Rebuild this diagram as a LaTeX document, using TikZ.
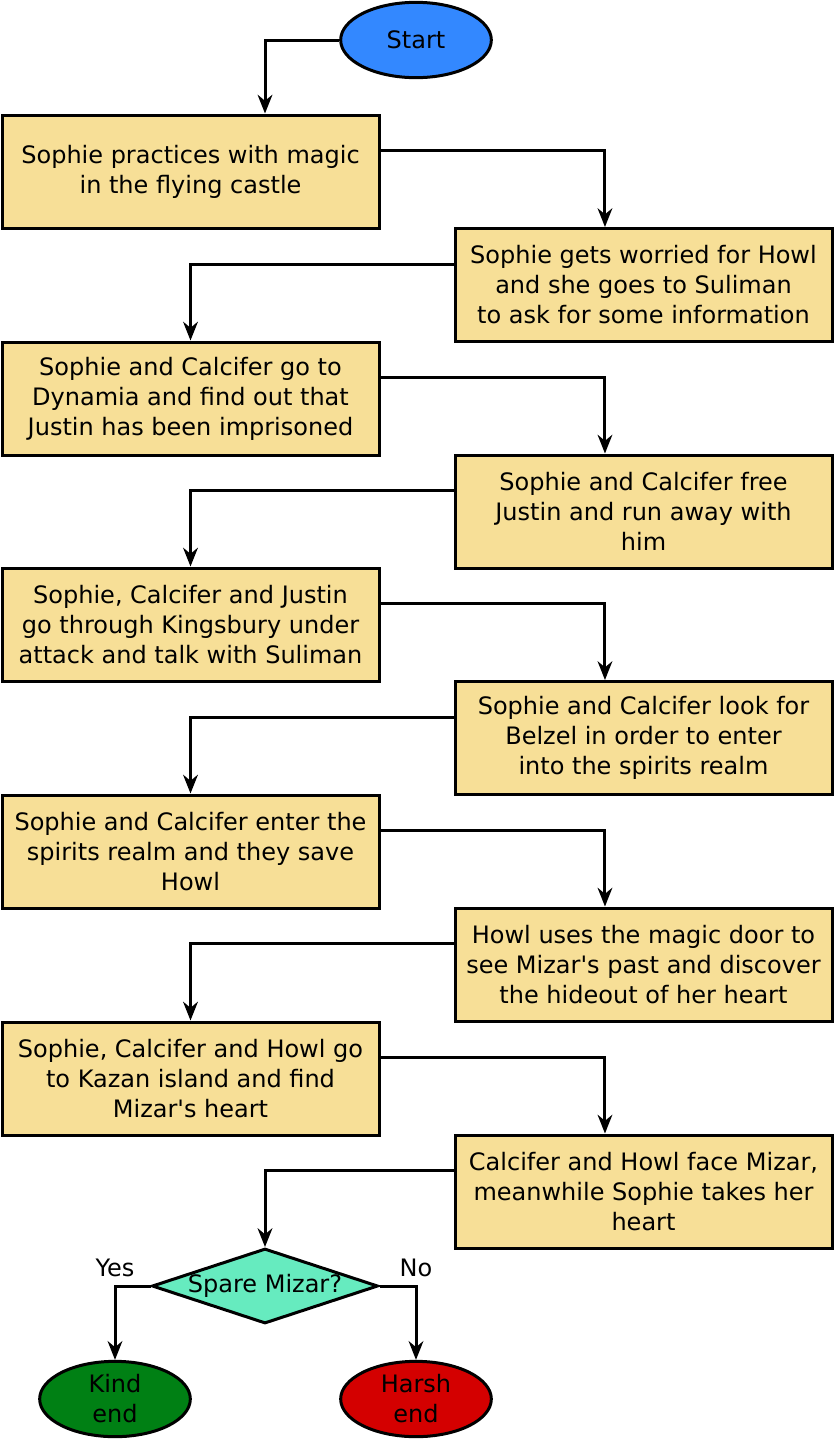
\documentclass[tikz,border=0pt]{standalone}
\usepackage{fontspec}
\setmainfont{DejaVu Sans}
\usetikzlibrary{arrows.meta,shapes.geometric}

\definecolor{startblue}{HTML}{3388FF}
\definecolor{stepfill}{HTML}{F7DF97}
\definecolor{askfill}{HTML}{66EBBF}
\definecolor{kindgreen}{HTML}{008014}
\definecolor{harshred}{HTML}{D40000}

\tikzset{
  stepbox/.style={draw, line width=2.25pt, fill=stepfill, minimum width=282.75pt,
    minimum height=84.75pt, align=center, inner sep=0pt},
  endblob/.style={draw, line width=2.25pt, ellipse, minimum width=113pt,
    minimum height=56.5pt, align=center, inner sep=0pt},
  arr/.style={line width=2.25pt, -{Stealth[length=14pt,width=11pt,inset=4.5pt]}}
}

\begin{document}
\begin{tikzpicture}[x=0.75pt, y=-0.75pt, font=\fontsize{18}{22.5}\selectfont]
  \useasboundingbox (0,0) rectangle (834,1439);
  \node[endblob, fill=startblue] (start) at (416,40) {Start};
  \node[stepbox] (b1) at (190.5,171.5) {Sophie practices with magic\\in the flying castle};
  \node[stepbox] (b2) at (643.5,285) {Sophie gets worried for Howl\\and she goes to Suliman\\to ask for some information};
  \node[stepbox] (b3) at (190.5,398.5) {Sophie and Calcifer go to\\Dynamia and find out that\\Justin has been imprisoned};
  \node[stepbox] (b4) at (643.5,511.5) {Sophie and Calcifer free\\Justin and run away with\\him};
  \node[stepbox] (b5) at (190.5,624.5) {Sophie, Calcifer and Justin\\go through Kingsbury under\\attack and talk with Suliman};
  \node[stepbox] (b6) at (643.5,738) {Sophie and Calcifer look for\\Belzel in order to enter\\into the spirits realm};
  \node[stepbox] (b7) at (190.5,851.5) {Sophie and Calcifer enter the\\spirits realm and they save\\Howl};
  \node[stepbox] (b8) at (643.5,964.5) {Howl uses the magic door to\\see Mizar\textquotesingle s past and discover\\the hideout of her heart};
  \node[stepbox] (b9) at (190.5,1078.5) {Sophie, Calcifer and Howl go\\to Kazan island and find\\Mizar\textquotesingle s heart};
  \node[stepbox] (b10) at (643.5,1191.5) {Calcifer and Howl face Mizar,\\meanwhile Sophie takes her\\heart};
  \node[draw, line width=2.25pt, diamond, fill=askfill, inner sep=0pt,
    minimum width=169.5pt, minimum height=56.25pt] (ask) at (265,1286) {\makebox[0pt]{Spare Mizar?}};
  \node[endblob, fill=kindgreen] (kind) at (115,1399) {Kind\\end};
  \node[endblob, fill=harshred] (harsh) at (416,1399) {Harsh\\end};
  \node (yes) at (115,1268) {Yes};
  \node (no) at (416,1268) {No};

  \draw[arr] (start.west) -| (ask.north |- b1.north);
  \foreach \a/\b in {b1/b2, b3/b4, b5/b6, b7/b8, b9/b10}
    \draw[arr] ([yshift=-27.75pt]\a.north east) -| ([xshift=-28.9pt]\b.north);
  \foreach \a/\b in {b2/b3, b4/b5, b6/b7, b8/b9}
    \draw[arr] ([yshift=-27.75pt]\a.north west) -| (\b.north);
  \draw[arr] ([yshift=-27.75pt]b10.north west) -| (ask.north);
  \draw[arr] (ask.west) -| (kind.north);
  \draw[arr] (ask.east) -| (harsh.north);
\end{tikzpicture}
\end{document}
